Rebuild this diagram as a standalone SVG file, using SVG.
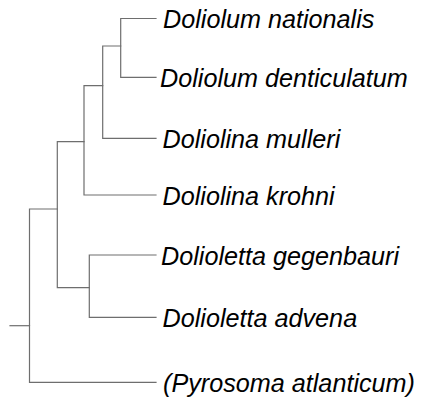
<svg xmlns="http://www.w3.org/2000/svg" width="423" height="398" viewBox="0 0 423 398">
<style>
.edge{fill:none;stroke:#6e6e6e;stroke-width:1.2;stroke-linecap:square}
.lbl{font-family:"Liberation Sans",Arial,sans-serif;font-style:italic;font-size:25.2px;fill:#000}
</style>
<rect width="423" height="398" fill="#fff"/>
<g id="connectors">
<path class="edge" d="M156,18.5 H120.7 V77.3 H156"/>
<path class="edge" d="M120.7,46 H102.7 V138.3 H156"/>
<path class="edge" d="M102.7,85.7 H84 V195 H156"/>
<path class="edge" d="M156,255 H89.3 V317.3 H156"/>
<path class="edge" d="M84,141.7 H57.3 V287.7 H89.3"/>
<path class="edge" d="M57.3,209 H29.5 V382.3 H156"/>
<path class="edge" d="M10,325.7 H29.5"/>
</g>
<g id="doliolum-nationalis"><text class="lbl" x="163" y="28.3">Doliolum nationalis</text></g>
<g id="doliolum-denticulatum"><text class="lbl" x="160" y="87.3">Doliolum denticulatum</text></g>
<g id="doliolina-mulleri"><text class="lbl" x="162.5" y="148.3">Doliolina mulleri</text></g>
<g id="doliolina-krohni"><text class="lbl" x="162.5" y="205">Doliolina krohni</text></g>
<g id="dolioletta-gegenbauri"><text class="lbl" x="161" y="265">Dolioletta gegenbauri</text></g>
<g id="dolioletta-advena"><text class="lbl" x="162.5" y="327.3">Dolioletta advena</text></g>
<g id="pyrosoma-atlanticum"><text class="lbl" x="163" y="392.3">(Pyrosoma atlanticum)</text></g>
</svg>
